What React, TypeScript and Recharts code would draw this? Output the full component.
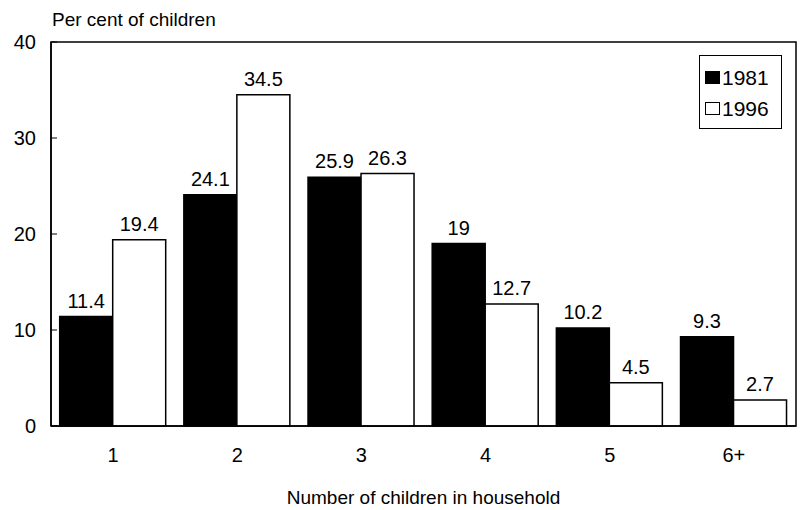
import React from "react";
import { BarChart, Bar, XAxis, YAxis, LabelList, ReferenceArea } from "recharts";

const categories = ["1", "2", "3", "4", "5", "6+"];
const values1981 = [11.4, 24.1, 25.9, 19, 10.2, 9.3];
const values1996 = [19.4, 34.5, 26.3, 12.7, 4.5, 2.7];
const yTicks = [0, 10, 20, 30, 40];
const series = [
  { key: "y1981", name: "1981", fill: "#000000" },
  { key: "y1996", name: "1996", fill: "#ffffff" },
];

const data = categories.map((c, i) => ({ cat: c, y1981: values1981[i], y1996: values1996[i] }));

const FONT = "'Liberation Sans Narrow', 'Arial Narrow', 'Liberation Sans', Arial, sans-serif";

const YTick = (props: any) => {
  const { x, y, payload } = props;
  return (
    <g>
      <line x1={x} x2={x + 6} y1={y} y2={y} stroke="#000" strokeWidth={1} />
      <text x={x - 15} y={y} dy={7} textAnchor="end" fontSize={20} fontFamily={FONT} fill="#000">
        {payload.value}
      </text>
    </g>
  );
};

const LegendBox = () => (
  <div
    style={{
      position: "absolute",
      left: 699,
      top: 55,
      border: "1.5px solid #000",
      width: 83,
      height: 74,
      boxSizing: "border-box",
      fontFamily: FONT,
      fontSize: 21,
      color: "#000",
      padding: "6px 0 0 5px",
      background: "#fff",
    }}
  >
    {series.map((s) => (
      <div key={s.key} style={{ display: "flex", alignItems: "center", height: 31 }}>
        <span
          style={{
            display: "inline-block",
            width: 15,
            height: 13,
            background: s.fill,
            border: "1px solid #000",
            boxSizing: "border-box",
            marginRight: 2,
          }}
        />
        <span>{s.name}</span>
      </div>
    ))}
  </div>
);

export default function App() {
  return (
    <div style={{ position: "absolute", left: 0, top: 0, width: 802, height: 510, background: "#fff" }}>
      <div
        style={{
          position: "absolute",
          left: 52,
          top: 8,
          fontFamily: FONT,
          fontSize: 19,
          color: "#000",
          lineHeight: "24px",
        }}
      >
        Per cent of children
      </div>
      <BarChart
        width={802}
        height={510}
        data={data}
        margin={{ top: 42, right: 6, bottom: 0, left: 0 }}
        barCategoryGap="7%"
        barGap={0}
      >
        <XAxis
          dataKey="cat"
          height={84}
          axisLine={{ stroke: "#000", strokeWidth: 1.5 }}
          tickLine={false}
          tickMargin={16}
          tick={{ fontSize: 20, fontFamily: FONT, fill: "#000" }}
          label={{
            value: "Number of children in household",
            position: "insideBottom",
            offset: 6,
            fontSize: 19,
            fontFamily: FONT,
            fill: "#000",
          }}
        />
        <YAxis
          domain={[0, 40]}
          ticks={yTicks}
          width={51}
          interval={0}
          tickSize={0}
          tickMargin={0}
          tick={<YTick />}
          axisLine={{ stroke: "#000", strokeWidth: 1.5 }}
        />
        <ReferenceArea y1={0} y2={40} fill="none" fillOpacity={0} stroke="#000" strokeWidth={1.5} ifOverflow="visible" />
        {series.map((s) => (
          <Bar
            key={s.key}
            dataKey={s.key}
            name={s.name}
            fill={s.fill}
            stroke="#000"
            strokeWidth={1.5}
            isAnimationActive={false}
          >
            <LabelList
              dataKey={s.key}
              position="top"
              offset={9}
              fontSize={20}
              fontFamily={FONT}
              fill="#000"
            />
          </Bar>
        ))}
      </BarChart>
      <LegendBox />
    </div>
  );
}
